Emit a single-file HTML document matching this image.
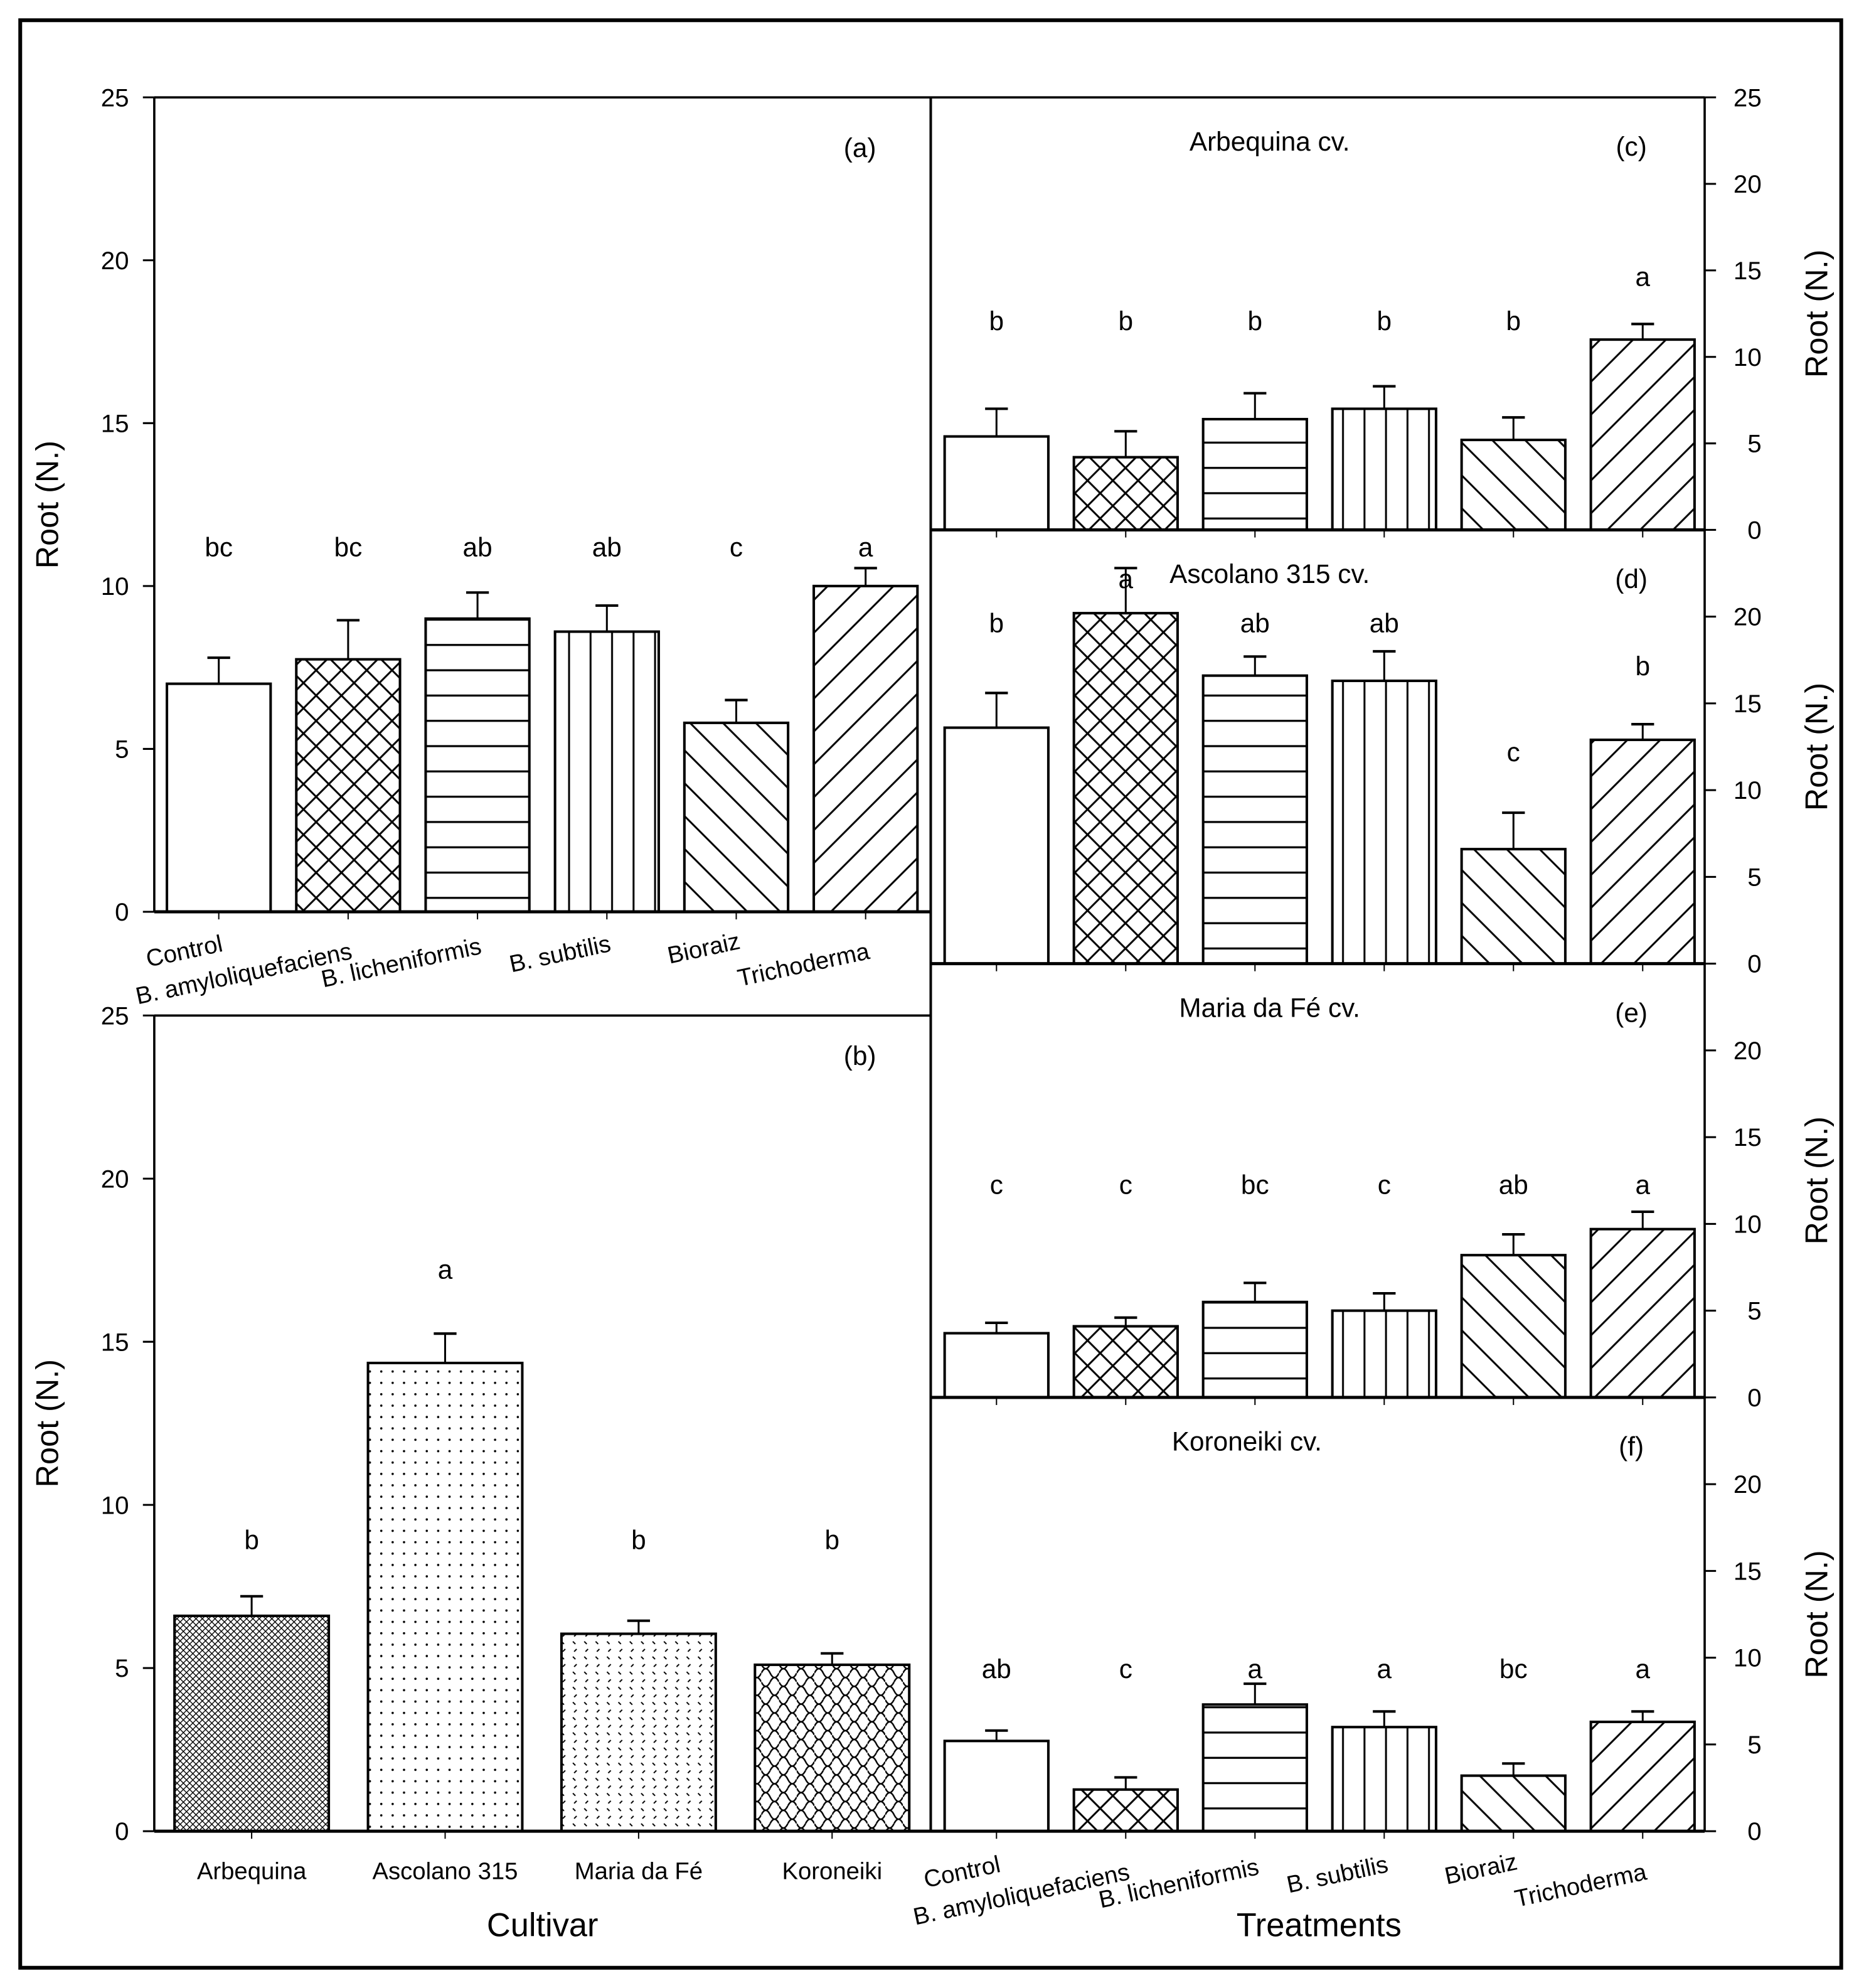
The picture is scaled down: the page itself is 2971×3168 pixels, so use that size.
<!DOCTYPE html>
<html><head><meta charset="utf-8"><style>
html,body{margin:0;padding:0;background:#fff}
svg{display:block}
text{font-family:"Liberation Sans",Arial,sans-serif;fill:#000}
</style></head><body>
<svg id="chart" xmlns="http://www.w3.org/2000/svg" width="2971" height="3168" viewBox="0 0 1474 1572" preserveAspectRatio="none">
<defs>
<pattern id="p-none" patternUnits="userSpaceOnUse" width="10" height="10"><rect width="10" height="10" fill="#fff"/></pattern>
<pattern id="p-cross" patternUnits="userSpaceOnUse" width="20" height="20"><rect width="20" height="20" fill="#fff"/><path d="M0,0L20,20M20,0L0,20" stroke="#000" stroke-width="1.5"/></pattern>
<pattern id="p-hor" patternUnits="userSpaceOnUse" width="20" height="20"><rect width="20" height="20" fill="#fff"/><path d="M0,10H20" stroke="#000" stroke-width="1.6"/></pattern>
<pattern id="p-ver" patternUnits="userSpaceOnUse" width="17" height="20"><rect width="17" height="20" fill="#fff"/><path d="M8,0V20" stroke="#000" stroke-width="1.5"/></pattern>
<pattern id="p-back" patternUnits="userSpaceOnUse" width="26" height="26"><rect width="26" height="26" fill="#fff"/><path d="M0,0L26,26M-13,13L13,39M13,-13L39,13" stroke="#000" stroke-width="1.5"/></pattern>
<pattern id="p-fwd" patternUnits="userSpaceOnUse" width="26" height="26"><rect width="26" height="26" fill="#fff"/><path d="M0,26L26,0M-13,13L13,-13M13,39L39,13" stroke="#000" stroke-width="1.5"/></pattern>
<pattern id="p-dense" patternUnits="userSpaceOnUse" width="5" height="5"><rect width="5" height="5" fill="#fff"/><path d="M0,0L5,5M5,0L0,5" stroke="#000" stroke-width="0.7"/></pattern>
<pattern id="p-dots" patternUnits="userSpaceOnUse" width="9" height="9"><rect width="9" height="9" fill="#fff"/><circle cx="4.5" cy="4.5" r="0.9" fill="#000"/></pattern>
<pattern id="p-dots2" patternUnits="userSpaceOnUse" width="9" height="12"><rect width="9" height="12" fill="#fff"/><path d="M3,2l2,2M6,8l-2,2" stroke="#000" stroke-width="1"/></pattern>
<pattern id="p-wave" patternUnits="userSpaceOnUse" width="14" height="14"><rect width="14" height="14" fill="#fff"/><path d="M0,7Q3.5,0 7,7T14,7M-7,0Q-3.5,-7 0,0T7,0M7,14Q10.5,7 14,14" stroke="#000" stroke-width="1.2" fill="none"/></pattern>
</defs>
<rect x="16" y="16" width="1440" height="1540" fill="none" stroke="#000" stroke-width="3"/>
<g id="g"></g>
</svg>
<script>
// Panel (a) data
const treatments = ["Control","B. amyloliquefaciens","B. licheniformis","B. subtilis","Bioraiz","Trichoderma"];
const aValues = [7.0,7.75,9.0,8.6,5.8,10.0];
const aErrors = [0.8,1.2,0.8,0.8,0.7,0.55];
const aLetters = ["bc","bc","ab","ab","c","a"];
// Panel (b) data
const cultivars = ["Arbequina","Ascolano 315","Maria da Fé","Koroneiki"];
const bValues = [6.6,14.35,6.05,5.1];
const bErrors = [0.6,0.9,0.4,0.35];
const bLetters = ["b","a","b","b"];
// Panels (c)-(f)
const cValues = [5.4,4.2,6.4,7.0,5.2,11.0];
const cErrors = [1.6,1.5,1.5,1.3,1.3,0.9];
const cLetters = ["b","b","b","b","b","a"];
const dValues = [13.6,20.2,16.6,16.3,6.6,12.9];
const dErrors = [2.0,2.6,1.1,1.7,2.1,0.9];
const dLetters = ["b","a","ab","ab","c","b"];
const eValues = [3.7,4.1,5.5,5.0,8.2,9.7];
const eErrors = [0.6,0.5,1.1,1.0,1.2,1.0];
const eLetters = ["c","c","bc","c","ab","a"];
const fValues = [5.2,2.4,7.3,6.0,3.2,6.3];
const fErrors = [0.6,0.7,1.2,0.9,0.7,0.6];
const fLetters = ["ab","c","a","a","bc","a"];
const yTicks = [0,5,10,15,20,25];

const NS="http://www.w3.org/2000/svg";
const g=document.getElementById('g');
function el(tag,attrs,text){const e=document.createElementNS(NS,tag);for(const k in attrs)e.setAttribute(k,attrs[k]);if(text!==undefined)e.textContent=text;g.appendChild(e);return e;}
function line(x1,y1,x2,y2,w,name){const e=el('line',{x1,y1,x2,y2,stroke:'#000','stroke-width':w||1.5});

return e;}
function txt(x,y,s,size,anchor,name,extra){const a={x,y,'font-size':size,'text-anchor':anchor||'middle'};Object.assign(a,extra||{});const e=el('text',a,s);

return e;}

function panel(o){
  const yScale=v=>o.y0-(v/25)*(o.y0-o.y1);
  o.values.forEach((v,i)=>{
    const cx=o.x0+o.first+i*o.step;
    const top=yScale(v), err=yScale(v+o.errors[i]);
    line(cx,err,cx,top,1.5,'error-bar');
    line(cx-9,err,cx+9,err,2,'error-cap');
    const r=el('rect',{x:cx-o.bw/2,y:top,width:o.bw,height:o.y0-top,fill:'url(#'+o.pats[i]+')',stroke:'#000','stroke-width':2});
    
    
    txt(cx,o.letterY(i,yScale),o.letters[i],21,'middle','significance-letter');
    line(cx,o.y0,cx,o.y0+6,1,'x-tick');
  });
  line(o.x0,o.y0,o.x1,o.y0,2.5,'x-axis-line');
  const ax=o.right?o.x1:o.x0;
  line(ax,o.y1,ax,o.y0,1.8,'y-axis-line');
  yTicks.forEach(t=>{
    if(t>o.maxLabel)return;
    const y=yScale(t);
    if(o.right){line(ax,y,ax+9,y,1.5,'y-tick');txt(ax+45,y+7,String(t),20,'end','y-tick-label');}
    else{line(ax,y,ax-9,y,1.5,'y-tick');txt(ax-20,y+7,String(t),20,'end','y-tick-label');}
  });
  const ym=(o.y0+o.y1)/2;
  const tx=o.right?1445:46;
  txt(tx,ym,'Root (N.)',25,'middle','y-axis-title',{transform:'rotate(-90 '+tx+' '+ym+')'});
  txt(o.labPos[0],o.labPos[1],'('+o.id+')',21,'middle','panel-label');
  if(o.title)txt(o.titleX||1004,o.y1+42,o.title,21,'middle','panel-title');
}
const tpats=['p-none','p-cross','p-hor','p-ver','p-back','p-fwd'];

panel({id:'a',x0:122,x1:736,y0:721,y1:77,first:51,step:102.3,bw:82,values:aValues,errors:aErrors,letters:aLetters,pats:tpats,letterY:()=>440,maxLabel:25,labPos:[680,124]});
line(122,77,736,77,1.8,'panel-top-line');
panel({id:'b',x0:122,x1:736,y0:1448,y1:803,first:77,step:153,bw:122,values:bValues,errors:bErrors,letters:bLetters,pats:['p-dense','p-dots','p-dots2','p-wave'],letterY:(i)=>i===1?1011:1225,maxLabel:25,labPos:[680,842]});
line(122,803,736,803,1.8,'panel-top-line');
line(736,77,736,1448,2,'panel-divider');
const rp=[
 {id:'c',y0:419,y1:77,values:cValues,errors:cErrors,letters:cLetters,title:'Arbequina cv.',maxLabel:25,ly:(i)=>i===5?226:261},
 {id:'d',y0:762,y1:419,values:dValues,errors:dErrors,letters:dLetters,title:'Ascolano 315 cv.',maxLabel:20,ly:(i)=>[500,465,500,500,602,534][i]},
 {id:'e',y0:1105,y1:762,values:eValues,errors:eErrors,letters:eLetters,title:'Maria da Fé cv.',maxLabel:20,ly:()=>944},
 {id:'f',y0:1448,y1:1105,values:fValues,errors:fErrors,letters:fLetters,title:'Koroneiki cv.',titleX:986,maxLabel:20,ly:()=>1327}
];
rp.forEach(p=>{
  panel({id:p.id,x0:736,x1:1348,y0:p.y0,y1:p.y1,first:52,step:102.2,bw:82,values:p.values,errors:p.errors,letters:p.letters,pats:tpats,letterY:p.ly,maxLabel:p.maxLabel,right:true,title:p.title,titleX:p.titleX,labPos:[1290,p.y1+46]});
});
line(736,77,1348,77,1.8,'panel-top-line');
function xlabels(x0,first,step,y){
  const dy=[0,6,2,0,-2,6];
  treatments.forEach((t,i)=>{
    const cx=x0+first+i*step+4, yy=y+dy[i];
    txt(cx,yy,t,19,'end','x-tick-label',{transform:'rotate(-12 '+cx+' '+yy+')'});
  });
}
xlabels(122,51,102.3,752);
xlabels(736,52,102.2,1480);
cultivars.forEach((c,i)=>txt(199+i*153,1486,c,19,'middle','x-tick-label'));
txt(429,1531,'Cultivar',26,'middle','x-axis-title');
txt(1043,1531,'Treatments',26,'middle','x-axis-title');
</script>
</body></html>
